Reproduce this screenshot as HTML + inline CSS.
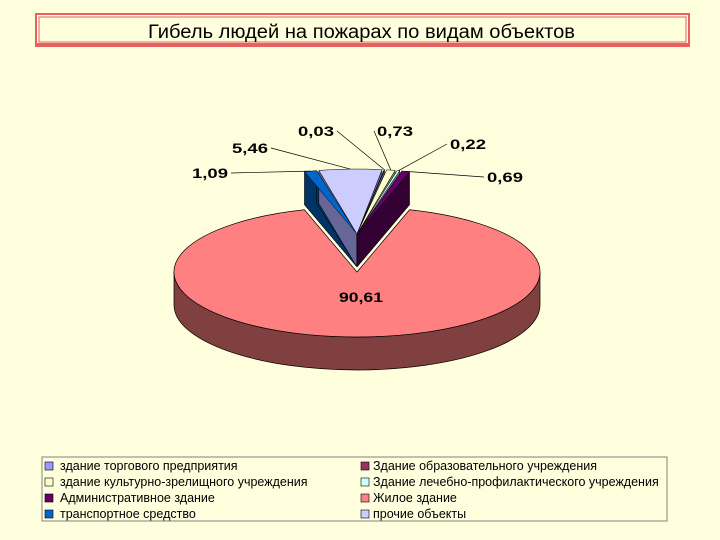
<!DOCTYPE html>
<html><head><meta charset="utf-8"><style>
body{margin:0;background:#FFFFDD;}
svg{display:block;font-family:"Liberation Sans",sans-serif;}
</style></head><body>
<svg width="720" height="540" viewBox="0 0 720 540">
<rect x="0" y="0" width="720" height="540" fill="#FFFFDD"/>
<g>
<rect x="35" y="13" width="655" height="34" fill="#E86060"/>
<rect x="37" y="15" width="651" height="28" fill="#FFFFDD"/>
<rect x="39" y="17" width="647" height="25" fill="none" stroke="#E86060" stroke-width="1"/>
<text x="148" y="38" font-size="19" textLength="427" lengthAdjust="spacingAndGlyphs" fill="#000">Гибель людей на пожарах по видам объектов</text>
</g>
<g id="pie"></g>
<g id="labels"></g>
<g>
<rect x="42" y="457" width="625" height="64" fill="#FFFFDD" stroke="#808080" stroke-width="1"/>
<g id="legend-items"></g>
</g>
</svg>
<script>
const names=["транспортное средство","прочие объекты","здание торгового предприятия","здание культурно-зрелищного учреждения","Здание лечебно-профилактического учреждения","Административное здание","Жилое здание"];
const values=[1.09,5.46,0.03,0.73,0.22,0.69,90.61];
const valueLabels=["1,09","5,46","0,03","0,73","0,22","0,69","90,61"];
const topColors=["#0066CC","#CCCCFF","#9999FF","#FFFFCC","#CCFFFF","#660066","#FF8080"];
const sideColors=["#003366","#666699","#4D4D80","#808066","#668080","#330033","#804040"];
const labelPos=[[192,178],[232,153],[298,136],[377,136],[450,149],[487,182],[357,302]];
const legendNames=["здание торгового предприятия","Здание образовательного учреждения","здание культурно-зрелищного учреждения","Здание лечебно-профилактического учреждения","Административное здание","Жилое здание","транспортное средство","прочие объекты"];
const legendColors=["#9999FF","#993366","#FFFFCC","#CCFFFF","#660066","#FF8080","#0066CC","#CCCCFF"];

const NS="http://www.w3.org/2000/svg";
const cx=357,cy=272,rx=183,ry=65,depth=33,explode=38,gap=0.012;
const total=values.reduce((a,b)=>a+b,0);
const pieG=document.getElementById('pie'),labG=document.getElementById('labels');
function mk(tag,attrs,parent){const e=document.createElementNS(NS,tag);for(const k in attrs)e.setAttribute(k,attrs[k]);parent.appendChild(e);return e;}
function pt(a,dy){return [cx+rx*Math.cos(a),cy+ry*Math.sin(a)+dy];}
const smallTotal=values.slice(0,6).reduce((a,b)=>a+b,0);
const rad=v=>v/total*2*Math.PI;
const smallSpan=rad(smallTotal)+gap*5;
let startA=-Math.PI/2-smallSpan/2;
const slices=[];
for(let i=0;i<6;i++){const a0=startA,a1=startA+rad(values[i]);slices.push([a0,a1]);startA=a1+gap;}
slices.push([-Math.PI/2+smallSpan/2,3*Math.PI/2-smallSpan/2]);
const [m0,m1]=slices[6];
const mainSide=mk('path',{d:`M${cx+rx},${cy} A${rx},${ry} 0 0 1 ${cx-rx},${cy} L${cx-rx},${cy+depth} A${rx},${ry} 0 0 0 ${cx+rx},${cy+depth} Z`,fill:sideColors[6],stroke:'#000','stroke-width':0.7},pieG);


const p0=pt(m0,0),p1=pt(m1,0);
const mainTop=mk('path',{d:`M${cx},${cy} L${p0[0]},${p0[1]} A${rx},${ry} 0 1 1 ${p1[0]},${p1[1]} Z`,fill:topColors[6],stroke:'#000','stroke-width':0.7},pieG);


function wedge(a0,a1,dy){const q0=pt(a0,dy),q1=pt(a1,dy);return `M${cx},${cy+dy} L${q0[0]},${q0[1]} A${rx},${ry} 0 0 1 ${q1[0]},${q1[1]} Z`;}
for(let i=0;i<6;i++){
 const [a0,a1]=slices[i];const dt=-explode,db=-explode+depth;
 const g=mk('g',{},pieG);
 
 
 mk('path',{d:wedge(a0,a1,db),fill:sideColors[i],stroke:'#000','stroke-width':0.5},g);
 [a0,a1].forEach(a=>{const q=pt(a,dt),r=pt(a,db);
  mk('path',{d:`M${cx},${cy+dt} L${q[0]},${q[1]} L${r[0]},${r[1]} L${cx},${cy+db} Z`,fill:sideColors[i],stroke:'#000','stroke-width':0.5},g);});
}
for(let i=0;i<6;i++){
 const [a0,a1]=slices[i];
 const t=mk('path',{d:wedge(a0,a1,-explode),fill:topColors[i],stroke:'#000','stroke-width':0.5},pieG);
 
 
}
for(let i=0;i<values.length;i++){
 const [x,y]=labelPos[i];
 const t=mk('text',{x:i==6?x-18:x,y:y,'font-size':14,'font-weight':'bold',fill:'#000',textLength:i==6?44:36,lengthAdjust:'spacingAndGlyphs'},labG);
 t.textContent=valueLabels[i];
 
 
 if(i<6){
  const am=(slices[i][0]+slices[i][1])/2;const a=pt(am,-explode);
  const lx=i<3?x+39:x-3;const ly=y-5;
  const l=mk('line',{x1:lx,y1:ly,x2:a[0],y2:a[1],stroke:'#000','stroke-width':0.7},labG);
  
  
 }
}
const li=document.getElementById('legend-items');
for(let k=0;k<legendNames.length;k++){
 const col=k%2,row=Math.floor(k/2);
 const x=col?361:45,y=462+row*16;
 const g=mk('g',{},li);
 
 
 mk('rect',{x:x,y:y,width:8,height:8,fill:legendColors[k],stroke:'#000','stroke-width':0.6},g);
 const t=mk('text',{x:x+(col?12:15),y:y+8,'font-size':12.5,fill:'#000'},g);
 t.textContent=legendNames[k];
}
</script>
</body></html>
